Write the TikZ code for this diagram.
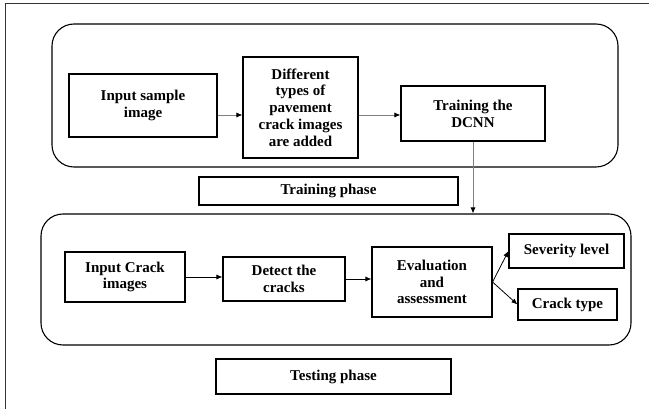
\documentclass[tikz,border=0pt]{standalone}
\usepackage{fontspec}
\setmainfont{Liberation Serif}
\usetikzlibrary{arrows.meta}

\begin{document}
\begin{tikzpicture}[x=1pt,y=-1pt,>={Latex[length=6pt,width=5pt]},
 font=\fontsize{15}{16.8}\selectfont\bfseries,
 box/.style={draw,line width=1.1pt,align=center,inner sep=0pt},
 phase/.style={draw,rounded corners=22pt,line width=1.1pt,inner sep=0pt},
 ln/.style={-{Latex[black,length=6pt,width=5pt]},line width=0.8pt}]
\useasboundingbox (0,0) rectangle (649,409);
\draw[line width=1pt,black!80] (5.5,409) -- (5.5,4) -- (649,4);
% training phase
\node[phase,minimum width=566,minimum height=143] (trbox) at (335,95.5) {};
\node[box,minimum width=148,minimum height=63] (inp) at (143,105.5) {Input sample\\image};
\node[box,minimum width=115,minimum height=101] (diff) at (300.5,107.5) {Different\\types of\\pavement\\crack images\\are added};
\node[box,minimum width=144,minimum height=55] (dcnn) at (473,113.5) {Training the\\DCNN};
\node[box,minimum width=259,minimum height=28] (trph) at (328.5,191) {Training phase};
\draw[ln,gray] ([yshift=-9.5pt]inp.east) -- ([yshift=-7.5pt]diff.west);
\draw[ln,gray] ([yshift=-7.5pt]diff.east) -- ([yshift=-1.5pt]dcnn.west);
% testing phase
\node[phase,minimum width=590,minimum height=131] (tsbox) at (336,279.5) {};
\node[box,minimum width=120,minimum height=50] (icr) at (125,277) {Input Crack\\images};
\node[box,minimum width=122,minimum height=44] (det) at (284,279) {Detect the\\cracks};
\node[box,minimum width=120,minimum height=70] (eva) at (432,282) {Evaluation\\and\\assessment};
\node[box,minimum width=115,minimum height=34] (sev) at (566.5,251) {Severity level};
\node[box,minimum width=99,minimum height=31] (ctype) at (567.5,304.5) {Crack type};
\node[box,minimum width=235,minimum height=35] (tsph) at (333.5,376.5) {Testing phase};
\draw[ln,gray] (dcnn.south) -- (dcnn.south |- tsbox.north);
\foreach \a/\b in {icr/det,det/eva}
  \draw[ln] (\a.east) -- (\a.east -| \b.west);
\foreach \b in {sev,ctype}
  \draw[ln] (eva.east) -- (\b.west);
\end{tikzpicture}
\end{document}
